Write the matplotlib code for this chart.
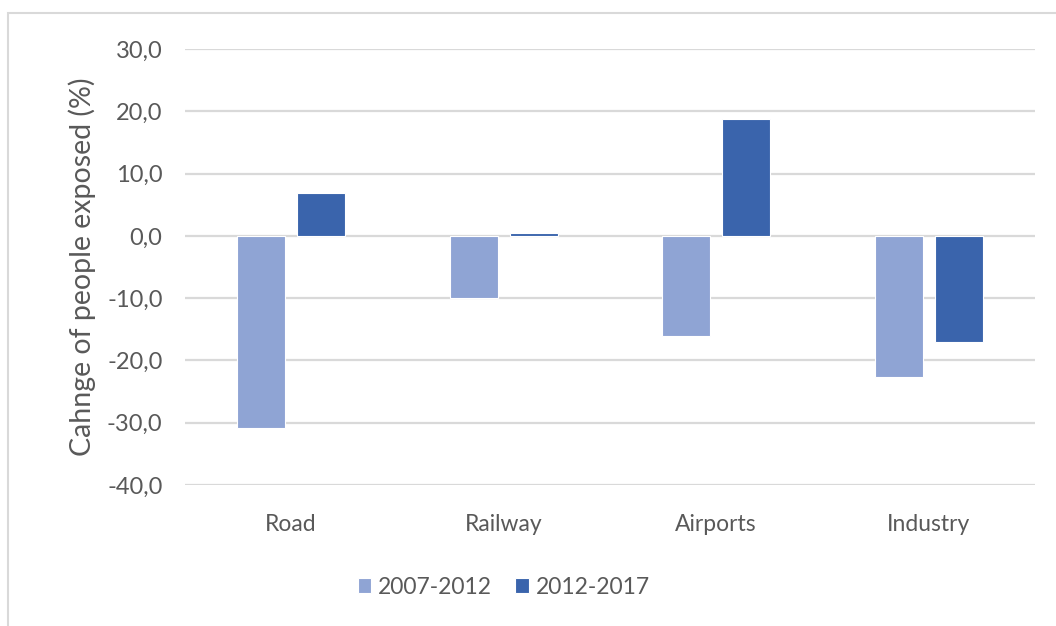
import matplotlib
matplotlib.use("Agg")
import matplotlib.pyplot as plt
from matplotlib.patches import Rectangle
from matplotlib.ticker import FuncFormatter, MultipleLocator
import numpy as np

categories = ["Road", "Railway", "Airports", "Industry"]
series_names = ["2007-2012", "2012-2017"]
v_2007_2012 = [-30.8, -9.9, -16.0, -22.6]
v_2012_2017 = [6.9, 0.5, 18.8, -17.0]

LIGHT, DARK, TXT, GRID = "#8FA4D4", "#3A64AC", "#595959", "#D9D9D9"
plt.rcParams["font.family"] = ["Lato", "DejaVu Sans"]

fig = plt.figure(figsize=(10.56, 6.26), dpi=100)
ax = fig.add_axes([0.175, 0.2252, 0.805, 0.6965])

x = np.arange(len(categories))
w = 0.226
off = 0.141
ax.bar(x - off, v_2007_2012, w, color=LIGHT, edgecolor="white", linewidth=0.8,
       label=series_names[0], zorder=3)
ax.bar(x + off, v_2012_2017, w, color=DARK, edgecolor="white", linewidth=0.8,
       label=series_names[1], zorder=3)

ax.set_xlim(-0.5, 3.5)
ax.set_ylim(-40, 30)
ax.yaxis.set_major_locator(MultipleLocator(10))
ax.yaxis.set_major_formatter(FuncFormatter(lambda v, p: f"{v:.1f}".replace(".", ",")))
ax.grid(axis="y", color=GRID, linewidth=1.6, zorder=0)
for s in ax.spines.values():
    s.set_visible(False)
ax.tick_params(length=0, labelcolor=TXT)
ax.tick_params(axis="y", pad=16, labelsize=17)
ax.tick_params(axis="x", pad=21, labelsize=16.5)
ax.set_xticks(x)
ax.set_xticklabels(categories)
ax.set_ylabel("Cahnge of people exposed (%)", fontsize=20.5, color=TXT, labelpad=8)

leg = fig.legend(loc="center", bbox_to_anchor=(0.477, 0.062), ncol=2, frameon=False,
                 fontsize=16.5, handlelength=0.6, handleheight=0.6, handletextpad=0.3,
                 columnspacing=1.0)
for t in leg.get_texts():
    t.set_color(TXT)

# chart-area border
fig.patches.append(Rectangle((8 / 1056, -0.1), 1.2, 1 - 13 / 626 + 0.1,
                             transform=fig.transFigure, fill=False,
                             edgecolor=GRID, linewidth=1.5))

fig.savefig("out.png", dpi=100, facecolor="white")
